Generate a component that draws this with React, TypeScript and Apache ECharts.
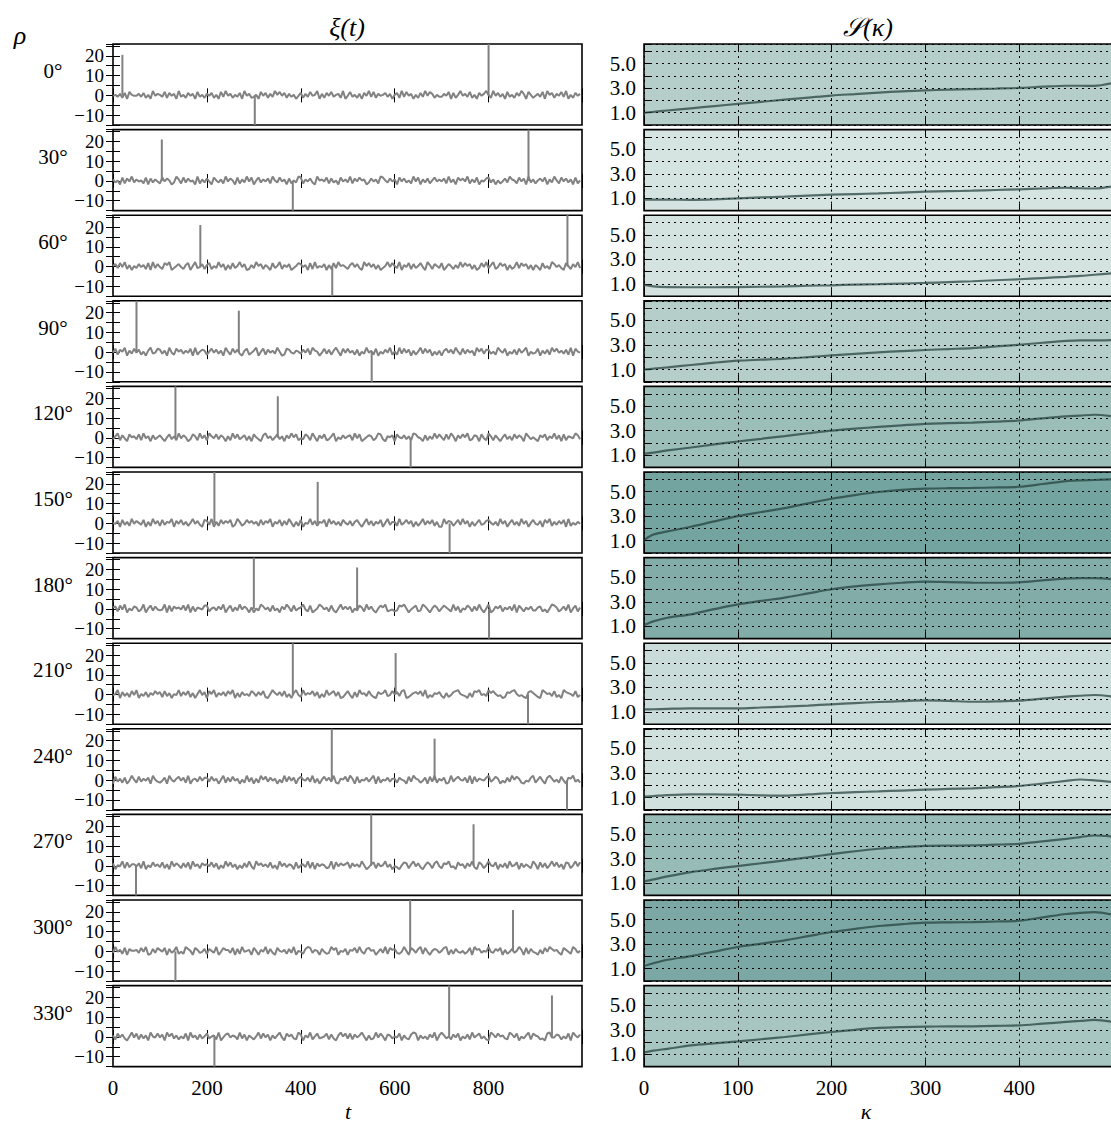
import React, { useEffect, useRef } from "react";
import * as echarts from "echarts";

// ---------------- data ----------------
const ROW_LABELS = ["0°", "30°", "60°", "90°", "120°", "150°", "180°", "210°", "240°", "270°", "300°", "330°"];

// right-panel background shades (one per row)
const BG_COLORS = [
  "#b5cec9", "#d5e3e1", "#d4e3e0", "#b6ceca", "#9cbeb9", "#74a4a0",
  "#82aca8", "#c9dcd9", "#d0e0dd", "#97bbb7", "#7ba8a4", "#a7c6c2",
];

// spike positions (t) and heights for each row
const BIG_SPIKE_T = [800, 885, 968, 50, 133, 216, 300, 383, 466, 550, 633, 716];
const SMALL_SPIKE_T = [20, 104, 186, 268, 351, 436, 520, 602, 685, 768, 852, 935];
const NEG_SPIKE_T = [302, 383, 467, 551, 634, 717, 801, 884, 967, 49, 133, 216];
const BIG_SPIKE_H = [30, 30, 30, 30, 30, 30, 30, 30, 30, 30, 30, 30];
const SMALL_SPIKE_H = [20.5, 21, 21, 21, 21, 21, 21, 21, 21, 21, 21, 21];
const NEG_SPIKE_H = [-20, -20, -20, -20, -20, -20, -20, -20, -20, -20, -20, -20];

// background noise samples, one digit per sample (every 5 steps of t), value = (d - 4.5) * NOISE_UNIT
const NOISE_UNIT = 0.5;
const NOISE_DIGITS = [
  "45362718544637251946" + "53827461935274618352" + "64725183946253719462" + "35184726395847263514" + "72638459162748356291" +
  "48352617493826457361" + "57293846152739486253" + "36481725946382517469" + "52947361835274961852" + "46381957264839152746",
  "63518274936452817364" + "28475139628374519263" + "74185362947518263948" + "15836472953846172539" + "82647319564827351846" +
  "39274856137462985374" + "61847352948163725846" + "47293618574926381547" + "83615247396528471936" + "25748163952847361825",
  "57384926153746281937" + "42869135742681593472" + "68253947162835947126" + "39572641835926471358" + "74618293547162839564" +
  "26847319584726135948" + "53916482735841962753" + "81475263948572613849" + "36924857162493857261" + "64183529746318527493",
  "48275916384725169348" + "73619428573648192576" + "25847361952847316824" + "69158274639512874365" + "37482965148372695184" +
  "84627153946281537492" + "52938471625938471526" + "16847395283746195837" + "73529648153728469153" + "48163729584637291854",
  "36927418563829461735" + "74158362947513862947" + "29648375162948357261" + "85317946258361749582" + "43862951748236915374" +
  "67294813576249831657" + "18547362985417263948" + "52839617485923761842" + "96274158362847519635" + "31758264937182654973",
  "54718362947538162947" + "28365917483625947318" + "73916284758139624857" + "46283759164827395162" + "81549372658194736285" +
  "37268415937264815936" + "62935847162593748261" + "19476258394716258347" + "85362947158362947158" + "43718592637481925364",
  "67284915376249158374" + "34918275648391726548" + "82563749158263947516" + "15397462835174962835" + "69428135974628315947" +
  "47153862947315869234" + "23879514682397415862" + "58642937154862739415" + "91375826473918526473" + "36724159862473915826",
  "45917362849153726485" + "72836154937482615947" + "18592647385916274538" + "63748215964738251694" + "29465837152946837125" +
  "84172956384217569348" + "57389124675839142657" + "31624789543162879453" + "96853412768953421786" + "42197563824197653824",
  "18362714952836471953" + "24719536847291563847" + "73846159273846152937" + "16295837461529384716" + "85473926158473921658" +
  "39618254736918254736" + "62754183965247183926" + "47129368547291836547" + "93586142739586214379" + "25841796352841769352",
  "71549283664729153846" + "38261947527381946275" + "64837152948361527394" + "19574638251947365182" + "56392817465239184756" +
  "82746395136827459361" + "43158726947315862794" + "27693418562749318625" + "95481637294581736429" + "61837259483618725948",
  "39462817556384912738" + "64817359242975186347" + "27539148663817294561" + "85164927318546273915" + "42798365174239681547" +
  "16583942785614739286" + "73249518637928415763" + "58916274352481967354" + "94375816247359618274" + "31628497563186429735",
  "62847315948273619548" + "47195836253819462735" + "83562914784652937164" + "25938471636941857329" + "71649258345827316958" +
  "38274695162394851763" + "54816327981635274916" + "96352748153729468352" + "19748563297481536928" + "65231894476253819647",
];

// S(kappa) curves
const KAPPA = [0, 10, 25, 50, 75, 100, 125, 150, 175, 200, 225, 250, 275, 300, 325, 350, 375, 400, 425, 450, 465, 480, 500];
const S_0 = [1.00, 1.07, 1.18, 1.36, 1.54, 1.72, 1.89, 2.06, 2.23, 2.40, 2.52, 2.64, 2.74, 2.82, 2.88, 2.93, 2.97, 3.02, 3.12, 3.20, 3.20, 3.18, 3.42];
const S_30 = [0.90, 0.90, 0.89, 0.88, 0.92, 1.00, 1.07, 1.14, 1.22, 1.30, 1.35, 1.40, 1.47, 1.54, 1.58, 1.62, 1.68, 1.73, 1.80, 1.86, 1.82, 1.80, 1.99];
const S_60 = [0.92, 0.80, 0.74, 0.73, 0.73, 0.74, 0.77, 0.80, 0.85, 0.89, 0.94, 0.98, 1.03, 1.08, 1.15, 1.22, 1.30, 1.38, 1.48, 1.58, 1.65, 1.75, 1.87];
const S_90 = [1.00, 1.07, 1.18, 1.37, 1.56, 1.72, 1.80, 1.88, 2.01, 2.15, 2.28, 2.40, 2.50, 2.59, 2.67, 2.75, 2.88, 3.02, 3.18, 3.33, 3.38, 3.37, 3.40];
const S_120 = [1.10, 1.21, 1.38, 1.62, 1.87, 2.11, 2.33, 2.55, 2.78, 3.00, 3.16, 3.30, 3.43, 3.55, 3.60, 3.65, 3.73, 3.82, 4.00, 4.16, 4.22, 4.29, 4.15];
const S_150 = [1.05, 1.50, 1.76, 2.14, 2.58, 3.01, 3.34, 3.66, 4.04, 4.42, 4.72, 4.97, 5.14, 5.24, 5.28, 5.30, 5.34, 5.40, 5.62, 5.86, 5.92, 5.95, 6.00];
const S_180 = [1.10, 1.40, 1.70, 1.98, 2.40, 2.79, 3.07, 3.34, 3.68, 4.02, 4.25, 4.42, 4.55, 4.64, 4.60, 4.56, 4.55, 4.59, 4.75, 4.89, 4.93, 4.92, 4.83];
const S_210 = [1.20, 1.22, 1.25, 1.29, 1.29, 1.29, 1.36, 1.43, 1.52, 1.62, 1.72, 1.81, 1.88, 1.94, 1.90, 1.83, 1.86, 1.92, 2.08, 2.24, 2.32, 2.38, 2.24];
const S_240 = [1.07, 1.12, 1.20, 1.26, 1.25, 1.23, 1.18, 1.15, 1.25, 1.37, 1.44, 1.50, 1.57, 1.64, 1.70, 1.75, 1.84, 1.94, 2.14, 2.35, 2.47, 2.40, 2.26];
const S_270 = [1.14, 1.30, 1.55, 1.90, 2.16, 2.39, 2.62, 2.85, 3.10, 3.36, 3.60, 3.80, 3.94, 4.04, 4.06, 4.07, 4.13, 4.20, 4.40, 4.61, 4.75, 4.88, 4.80];
const S_300 = [1.22, 1.45, 1.73, 2.03, 2.40, 2.77, 3.04, 3.31, 3.65, 3.99, 4.25, 4.48, 4.63, 4.75, 4.78, 4.80, 4.85, 4.91, 5.18, 5.46, 5.55, 5.62, 5.40];
const S_330 = [1.14, 1.30, 1.45, 1.73, 1.90, 2.06, 2.23, 2.41, 2.62, 2.82, 3.00, 3.15, 3.22, 3.26, 3.27, 3.28, 3.32, 3.36, 3.50, 3.64, 3.72, 3.80, 3.64];
const S_ROWS = [S_0, S_30, S_60, S_90, S_120, S_150, S_180, S_210, S_240, S_270, S_300, S_330];

// axis ranges
const T_MAX = 999;
const T_STEP = 5;
const XI_MIN = -15;
const XI_MAX = 26;
const S_MIN = 0;
const S_MAX = 6.6;
const K_MAX = 500;

// ---------------- layout / style ----------------
const TOP0 = 44;
const PITCH = 85.6;
const PANEL_H = 81;
const LEFT_X = 113;
const RIGHT_X = 644;
const PANEL_W = 469;
const SERIF = '"Liberation Serif", "DejaVu Serif", serif';
const LABEL = { color: "#000", fontSize: 21, fontFamily: SERIF };
const LABEL_SMALL = { color: "#000", fontSize: 19, fontFamily: SERIF };

function buildOption() {
  const grid: any[] = [];
  const xAxis: any[] = [];
  const yAxis: any[] = [];
  const series: any[] = [];
  const graphic: any[] = [];
  const tick = { show: true, inside: true, length: 7, lineStyle: { color: "#000", width: 1 } };
  const dotted = { show: true, lineStyle: { color: "#000", width: 1, type: [2, 4] } };

  ROW_LABELS.forEach((lab, r) => {
    const top = TOP0 + r * PITCH;
    const last = r === ROW_LABELS.length - 1;

    // ---- left panel (xi(t)) ----
    const gL = grid.length;
    grid.push({
      left: LEFT_X, top, width: PANEL_W, height: PANEL_H, show: true, borderColor: "#000", borderWidth: 1.6,
      backgroundColor: "#fff", outerBoundsMode: "none", containLabel: false,
    });
    const xL = xAxis.length;
    xAxis.push({
      gridIndex: gL, type: "value", position: "bottom", min: 0, max: T_MAX, interval: 200,
      axisLine: { show: false }, axisTick: tick, splitLine: { show: false },
      axisLabel: { show: last, margin: 11, ...LABEL, formatter: (v: number) => (v % 200 === 0 ? String(v) : "") },
    });
    xAxis.push({
      gridIndex: gL, type: "value", position: "top", min: 0, max: T_MAX, interval: 200,
      axisLine: { show: false }, axisTick: tick, splitLine: { show: false }, axisLabel: { show: false },
    });
    const yL = yAxis.length;
    yAxis.push({
      gridIndex: gL, type: "value", position: "left", min: XI_MIN, max: XI_MAX, interval: 5,
      axisLine: { show: false }, axisTick: tick, splitLine: { show: false },
      axisLabel: {
        margin: 9, ...LABEL_SMALL,
        formatter: (v: number) => (v % 10 === 0 ? (v < 0 ? "\u2212" + Math.abs(v) : String(v)) : ""),
      },
    });
    yAxis.push({
      gridIndex: gL, type: "value", position: "right", min: XI_MIN, max: XI_MAX, interval: 5,
      axisLine: { show: false }, axisTick: tick, splitLine: { show: false }, axisLabel: { show: false },
    });

    const digits = NOISE_DIGITS[r];
    const noise: number[][] = [];
    for (let i = 0; i < digits.length; i++) {
      noise.push([i * T_STEP, (Number(digits[i]) - 4.5) * NOISE_UNIT]);
    }
    series.push({
      type: "line", xAxisIndex: xL, yAxisIndex: yL, data: noise, symbol: "none", clip: true,
      lineStyle: { color: "#828282", width: 2 }, z: 3,
    });
    series.push({
      type: "bar", xAxisIndex: xL, yAxisIndex: yL, barWidth: 2, clip: true,
      data: [
        [BIG_SPIKE_T[r], BIG_SPIKE_H[r]],
        [SMALL_SPIKE_T[r], SMALL_SPIKE_H[r]],
        [NEG_SPIKE_T[r], NEG_SPIKE_H[r]],
      ],
      itemStyle: { color: "#808080" }, z: 4,
    });

    // ---- right panel (S(kappa)) ----
    const gR = grid.length;
    grid.push({
      left: RIGHT_X, top, width: PANEL_W, height: PANEL_H, show: true, borderColor: "#000", borderWidth: 1.6,
      backgroundColor: BG_COLORS[r], outerBoundsMode: "none", containLabel: false,
    });
    const xR = xAxis.length;
    xAxis.push({
      gridIndex: gR, type: "value", position: "bottom", min: 0, max: K_MAX, interval: 100,
      axisLine: { show: false }, axisTick: tick, splitLine: dotted,
      axisLabel: { show: last, margin: 11, ...LABEL, formatter: (v: number) => (v % 100 === 0 && v < K_MAX ? String(v) : "") },
    });
    xAxis.push({
      gridIndex: gR, type: "value", position: "top", min: 0, max: K_MAX, interval: 100,
      axisLine: { show: false }, axisTick: tick, splitLine: { show: false }, axisLabel: { show: false },
    });
    const yR = yAxis.length;
    yAxis.push({
      gridIndex: gR, type: "value", position: "left", min: S_MIN, max: S_MAX, interval: 1,
      axisLine: { show: false }, axisTick: tick, splitLine: dotted,
      axisLabel: { margin: 8, ...LABEL, formatter: (v: number) => (v === 1 || v === 3 || v === 5 ? v.toFixed(1) : "") },
    });
    series.push({
      type: "line", xAxisIndex: xR, yAxisIndex: yR, smooth: 0.3, symbol: "none", clip: true,
      data: KAPPA.map((k, i) => [k, S_ROWS[r][i]]),
      lineStyle: { color: "rgba(35,62,60,0.72)", width: 2.2 }, z: 3,
    });

    graphic.push({
      type: "text", x: 53, y: top + 27,
      style: { text: lab, fontSize: 21, fontFamily: SERIF, fill: "#000", textAlign: "center", textVerticalAlign: "middle", align: "center", verticalAlign: "middle" },
    });
  });

  const title = (text: string, x: number, y: number, size: number, italic: boolean) => ({
    type: "text", x, y,
    style: { text, fontSize: size, fontFamily: SERIF, fontStyle: italic ? "italic" : "normal", fill: "#000", textAlign: "center", textVerticalAlign: "middle", align: "center", verticalAlign: "middle" },
  });
  graphic.push(title("ρ", 20, 35, 26, true));
  graphic.push(title("ξ(t)", 347, 27, 26, true));
  graphic.push(title("𝒮(κ)", 868, 27, 26, true));
  graphic.push(title("t", 348, 1111, 22, true));
  graphic.push(title("κ", 866, 1111, 22, true));

  return { animation: false, backgroundColor: "#fff", grid, xAxis, yAxis, series, graphic };
}

export default function App() {
  const ref = useRef<HTMLDivElement>(null);
  useEffect(() => {
    const chart = echarts.init(ref.current!, null, { renderer: "svg" });
    chart.setOption(buildOption() as any);
    return () => chart.dispose();
  }, []);
  return <div ref={ref} style={{ position: "absolute", left: 0, top: 0, width: 1111, height: 1126 }} />;
}
